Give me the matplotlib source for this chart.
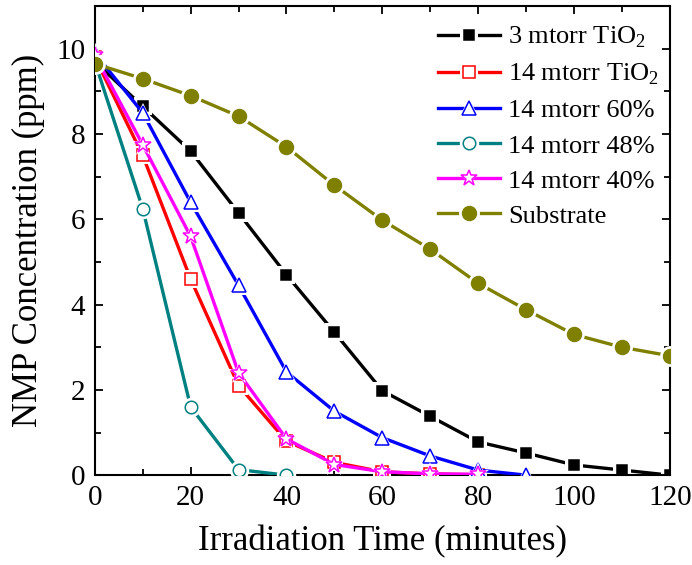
import matplotlib
matplotlib.use('Agg')
import matplotlib.pyplot as plt
from matplotlib.legend_handler import HandlerTuple
from matplotlib.ticker import MultipleLocator

plt.rcParams['font.family'] = ['Liberation Serif', 'DejaVu Serif']
plt.rcParams['mathtext.fontset'] = 'custom'
plt.rcParams['mathtext.rm'] = 'Liberation Serif'

time = [0, 10, 20, 30, 40, 50, 60, 70, 80, 90, 100, 110, 120]

tio2_3 = [9.7, 8.65, 7.6, 6.15, 4.7, 3.35, 1.98, 1.38, 0.78, 0.52, 0.24, 0.12, 0.0]
tio2_14 = [9.8, 7.5, 4.6, 2.1, 0.8, 0.3, 0.08, 0.03, 0.01]
p60 = [9.9, 8.5, 6.4, 4.45, 2.42, 1.5, 0.88, 0.45, 0.12, 0.0]
p48 = [9.7, 6.25, 1.6, 0.13, 0.0]
p40 = [9.85, 7.75, 5.6, 2.4, 0.85, 0.25, 0.08, 0.03, 0.02]
substrate = [9.65, 9.3, 8.9, 8.42, 7.7, 6.8, 5.98, 5.3, 4.5, 3.88, 3.3, 3.0, 2.8]

series = [
    ('3 mtorr TiO$_{2}$', tio2_3, 'black', 's', True, 7.5),
    ('14 mtorr TiO$_{2}$', tio2_14, '#ff0000', 's', False, 8),
    ('14 mtorr 60%', p60, '#0000ff', '^', False, 10),
    ('14 mtorr 48%', p48, '#008080', 'o', False, 9),
    ('14 mtorr 40%', p40, '#ff00ff', '*', False, 12),
    ('Substrate', substrate, '#808000', 'o', True, 10),
]

fig = plt.figure(figsize=(6.92, 5.65), dpi=100)
ax = fig.add_axes([0.137, 0.159, 0.831, 0.83])

handles = []
labels = []
for z, (name, vals, col, mk, filled, ms) in enumerate(series):
    xs = time[:len(vals)]
    line, = ax.plot(xs, vals, color=col, lw=2.4, zorder=2 + z)
    # white halo under the marker so the line breaks around it
    gap, = ax.plot(xs, vals, ls='none', marker=mk, ms=ms + 5, mfc='white',
                   mec='white', mew=0, zorder=2 + z)
    mark, = ax.plot(xs, vals, ls='none', marker=mk, ms=ms,
                    mfc=col if filled else 'white', mec=col, mew=1.1,
                    zorder=2 + z)
    handles.append((line, gap, mark))
    labels.append(name)

ax.set_xlim(0, 120)
ax.set_ylim(0, 11)
ax.xaxis.set_major_locator(MultipleLocator(20))
ax.xaxis.set_minor_locator(MultipleLocator(10))
ax.yaxis.set_major_locator(MultipleLocator(2))
ax.yaxis.set_minor_locator(MultipleLocator(1))
ax.tick_params(which='both', direction='in', top=True, right=True,
               labelsize=21, width=1.3)
ax.tick_params(which='major', length=6, pad=7)
ax.tick_params(which='minor', length=4)
for sp in ax.spines.values():
    sp.set_linewidth(1.5)

ax.set_xlabel('Irradiation Time (minutes)', fontsize=25, labelpad=10)
ax.set_ylabel('NMP Concentration (ppm)', fontsize=25, labelpad=8)

ax.legend(handles, labels, handler_map={tuple: HandlerTuple(ndivide=1, pad=0)},
          loc='upper right', bbox_to_anchor=(1.0, 0.983), frameon=False,
          fontsize=19, handlelength=2.35, handletextpad=0.3,
          labelspacing=0.44, borderaxespad=0.1, borderpad=0.3)

fig.savefig('out.png', dpi=100)
